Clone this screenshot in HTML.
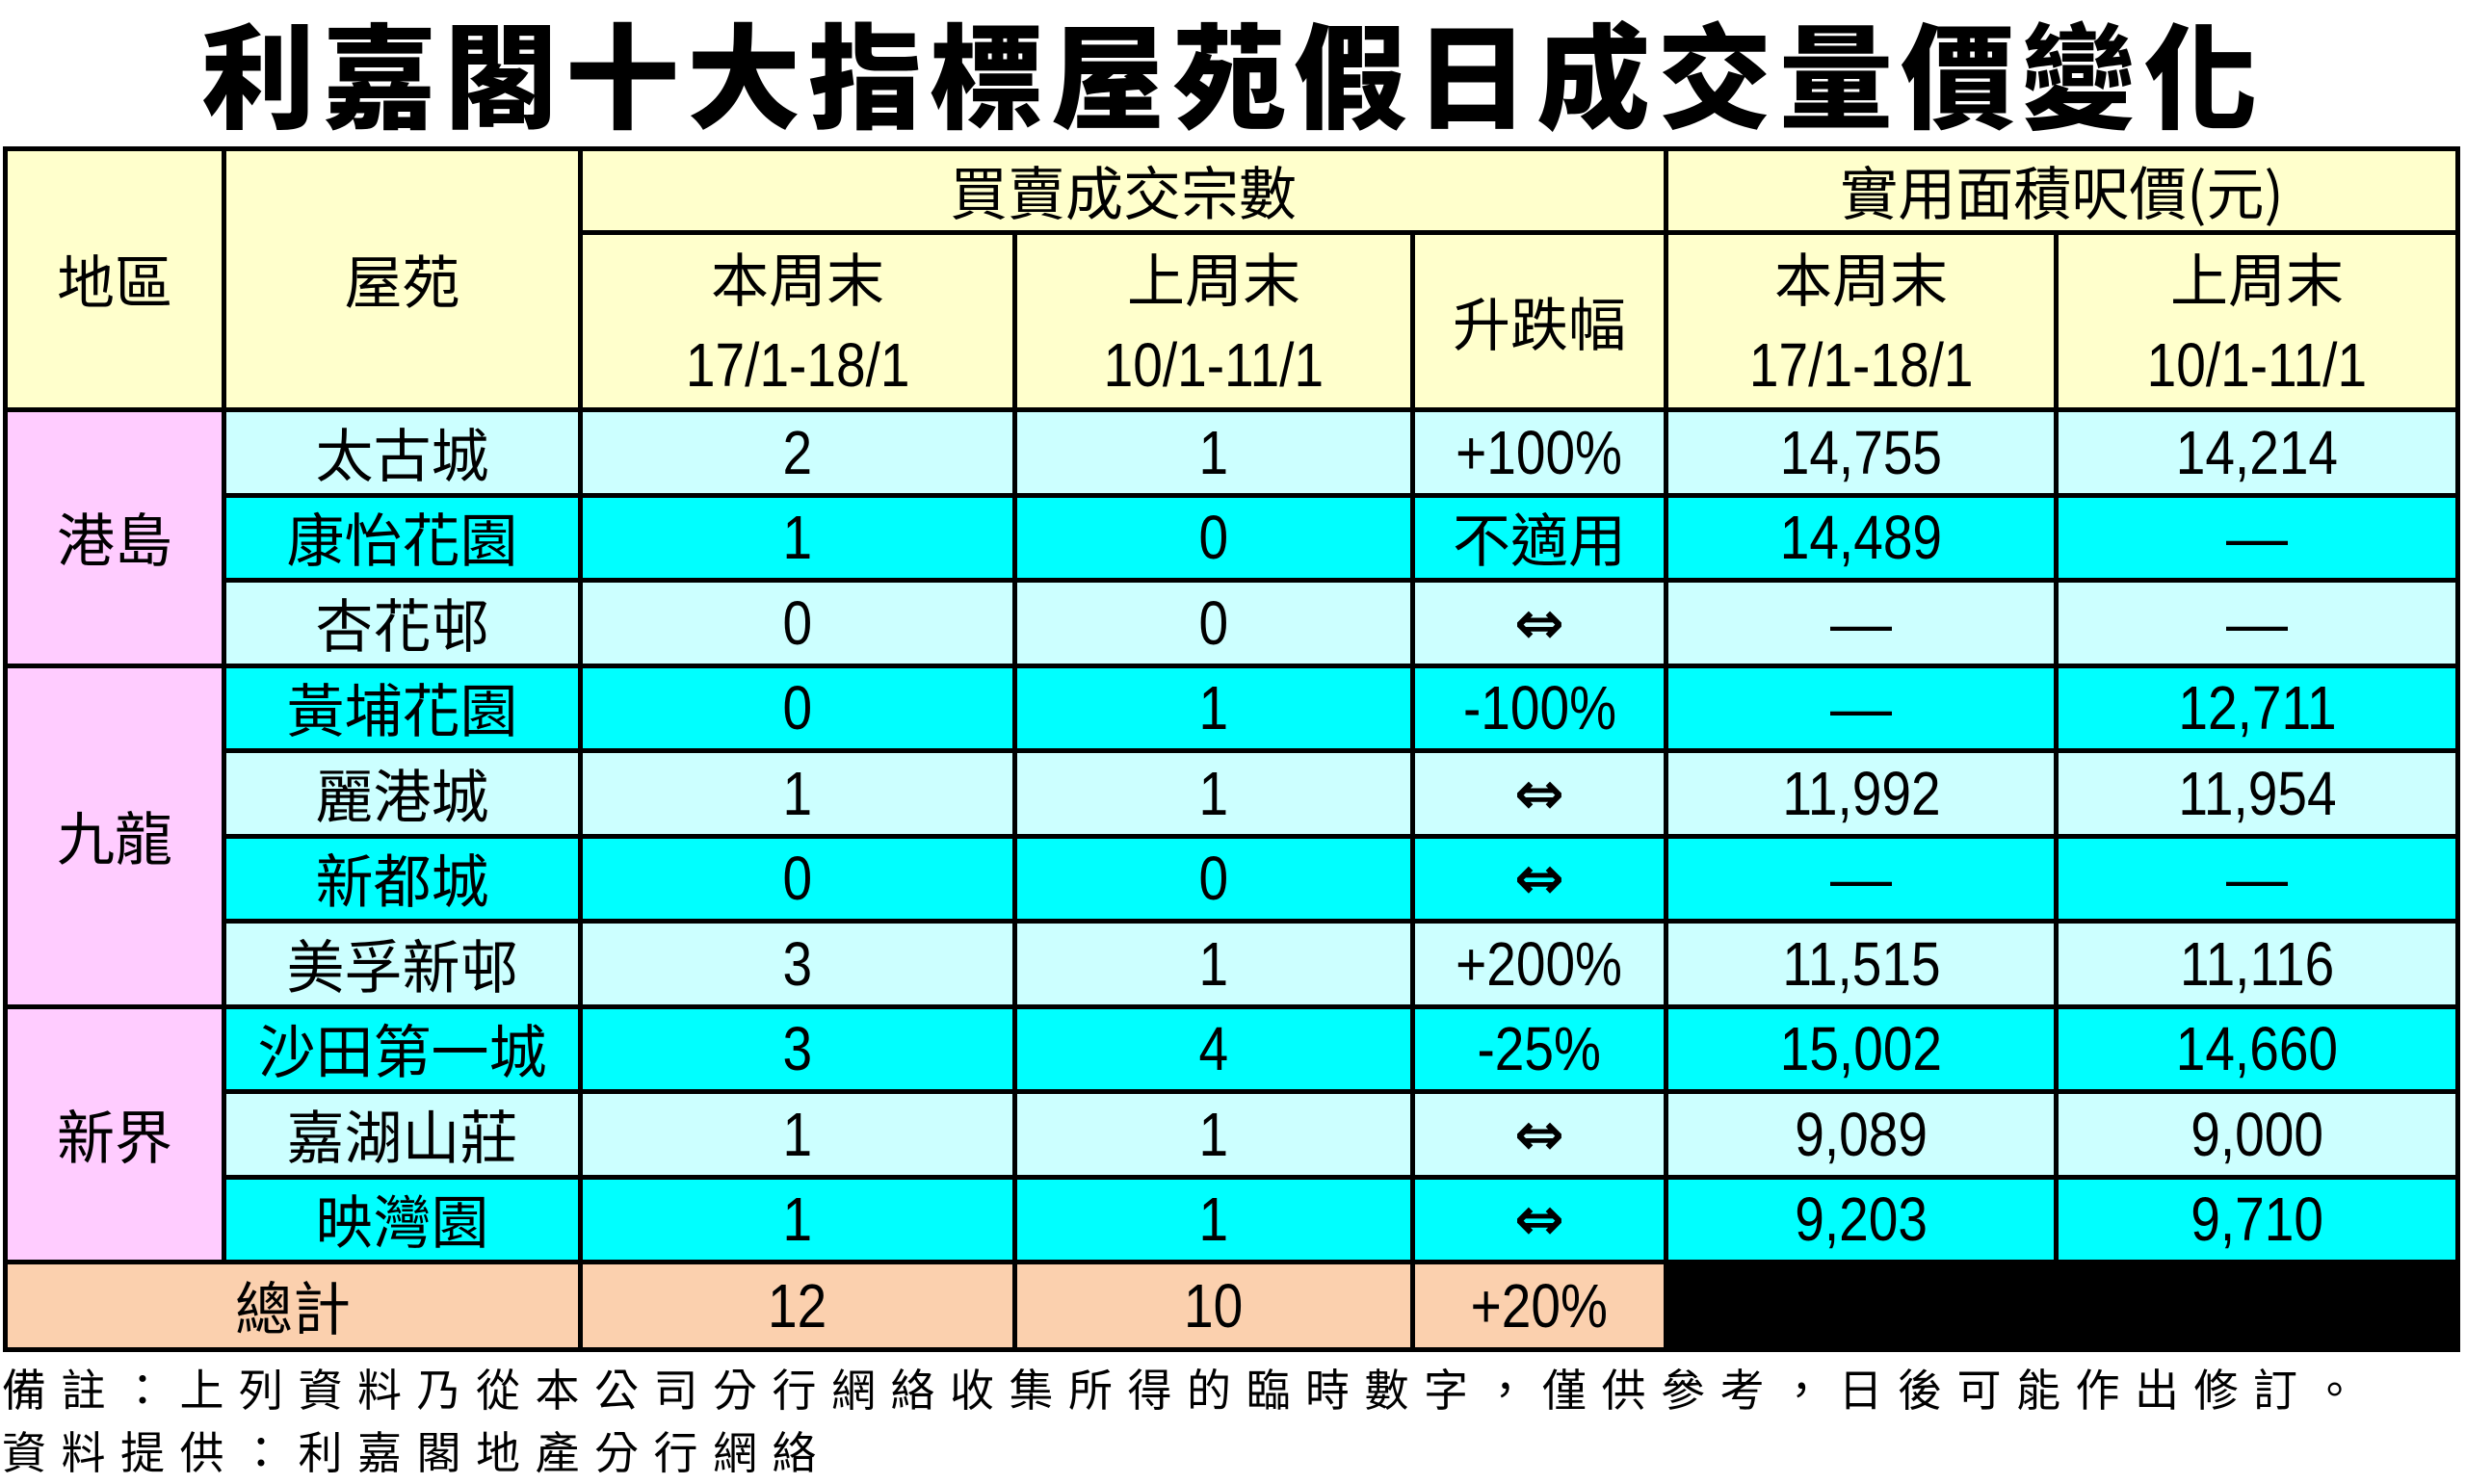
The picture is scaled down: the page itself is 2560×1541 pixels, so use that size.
<!DOCTYPE html>
<html><head><meta charset="utf-8"><style>
html,body{margin:0;padding:0;background:#fff;width:2560px;height:1541px;overflow:hidden}
body{font-family:"Liberation Sans","Noto Sans CJK TC",sans-serif;position:relative}
.title{position:absolute;left:0;top:8px;width:2560px;text-align:center;font-family:"Noto Sans CJK TC",sans-serif;font-weight:900;font-size:118px;line-height:130px;letter-spacing:8px;color:#000}
table{position:absolute;left:3px;top:152px;border-collapse:collapse;table-layout:fixed;width:2546px}
td{border:5px solid #000;text-align:center;vertical-align:middle;padding:0;font-size:64px;line-height:70px;color:#000;font-family:"Liberation Sans","Noto Sans CJK TC",sans-serif;overflow:hidden;white-space:nowrap}
.n{display:inline-block;transform:scaleX(0.86)}
.c{font-family:"Noto Sans CJK TC",sans-serif;font-size:60px}
.y{background:#ffffcc}.p{background:#ffccff}.l{background:#ccffff}.d{background:#00ffff}.o{background:#fbd0ae}.k{background:#000}
tr.r td{height:83.5px}
td.h2{line-height:88px}
.ar{font-family:"DejaVu Sans",sans-serif;font-size:62px;font-weight:bold}
.note{position:absolute;left:2px;font-family:"Noto Sans CJK TC",sans-serif;font-size:46px;letter-spacing:15.5px;color:#000;white-space:nowrap;line-height:56px}
</style></head><body>
<div class="title">利嘉閣十大指標屋苑假日成交量價變化</div>
<table>
<colgroup><col style="width:227px"><col style="width:370px"><col style="width:451px"><col style="width:413px"><col style="width:263px"><col style="width:405px"><col style="width:417px"></colgroup>
<tr><td class="y c" rowspan="2">地區</td><td class="y c" rowspan="2">屋苑</td><td class="y c" colspan="3" style="height:82px">買賣成交宗數</td><td class="y c" colspan="2">實用面積呎價(元)</td></tr>
<tr><td class="y h2" style="height:162px"><span class="c">本周末</span><br><span class="n">17/1-18/1</span></td><td class="y h2"><span class="c">上周末</span><br><span class="n">10/1-11/1</span></td><td class="y c">升跌幅</td><td class="y h2"><span class="c">本周末</span><br><span class="n">17/1-18/1</span></td><td class="y h2"><span class="c">上周末</span><br><span class="n">10/1-11/1</span></td></tr>
<tr class="r"><td class="p c" rowspan="3">港島</td><td class="l c">太古城</td><td class="l"><span class="n">2</span></td><td class="l"><span class="n">1</span></td><td class="l"><span class="n">+100%</span></td><td class="l"><span class="n">14,755</span></td><td class="l"><span class="n">14,214</span></td></tr>
<tr class="r"><td class="d c">康怡花園</td><td class="d"><span class="n">1</span></td><td class="d"><span class="n">0</span></td><td class="d c">不適用</td><td class="d"><span class="n">14,489</span></td><td class="d">—</td></tr>
<tr class="r"><td class="l c">杏花邨</td><td class="l"><span class="n">0</span></td><td class="l"><span class="n">0</span></td><td class="l ar">⇔</td><td class="l">—</td><td class="l">—</td></tr>
<tr class="r"><td class="p c" rowspan="4">九龍</td><td class="d c">黃埔花園</td><td class="d"><span class="n">0</span></td><td class="d"><span class="n">1</span></td><td class="d"><span class="n">-100%</span></td><td class="d">—</td><td class="d"><span class="n">12,711</span></td></tr>
<tr class="r"><td class="l c">麗港城</td><td class="l"><span class="n">1</span></td><td class="l"><span class="n">1</span></td><td class="l ar">⇔</td><td class="l"><span class="n">11,992</span></td><td class="l"><span class="n">11,954</span></td></tr>
<tr class="r"><td class="d c">新都城</td><td class="d"><span class="n">0</span></td><td class="d"><span class="n">0</span></td><td class="d ar">⇔</td><td class="d">—</td><td class="d">—</td></tr>
<tr class="r"><td class="l c">美孚新邨</td><td class="l"><span class="n">3</span></td><td class="l"><span class="n">1</span></td><td class="l"><span class="n">+200%</span></td><td class="l"><span class="n">11,515</span></td><td class="l"><span class="n">11,116</span></td></tr>
<tr class="r"><td class="p c" rowspan="3">新界</td><td class="d c">沙田第一城</td><td class="d"><span class="n">3</span></td><td class="d"><span class="n">4</span></td><td class="d"><span class="n">-25%</span></td><td class="d"><span class="n">15,002</span></td><td class="d"><span class="n">14,660</span></td></tr>
<tr class="r"><td class="l c">嘉湖山莊</td><td class="l"><span class="n">1</span></td><td class="l"><span class="n">1</span></td><td class="l ar">⇔</td><td class="l"><span class="n">9,089</span></td><td class="l"><span class="n">9,000</span></td></tr>
<tr class="r"><td class="d c">映灣園</td><td class="d"><span class="n">1</span></td><td class="d"><span class="n">1</span></td><td class="d ar">⇔</td><td class="d"><span class="n">9,203</span></td><td class="d"><span class="n">9,710</span></td></tr>
<tr class="r"><td class="o c" colspan="2" style="height:86px">總計</td><td class="o"><span class="n">12</span></td><td class="o"><span class="n">10</span></td><td class="o"><span class="n">+20%</span></td><td class="k" colspan="2"></td></tr>
</table>
<div class="note" style="top:1413px">備註：上列資料乃從本公司分行網絡收集所得的臨時數字，僅供參考，日後可能作出修訂。</div>
<div class="note" style="top:1478px">資料提供：利嘉閣地產分行網絡</div>
</body></html>
